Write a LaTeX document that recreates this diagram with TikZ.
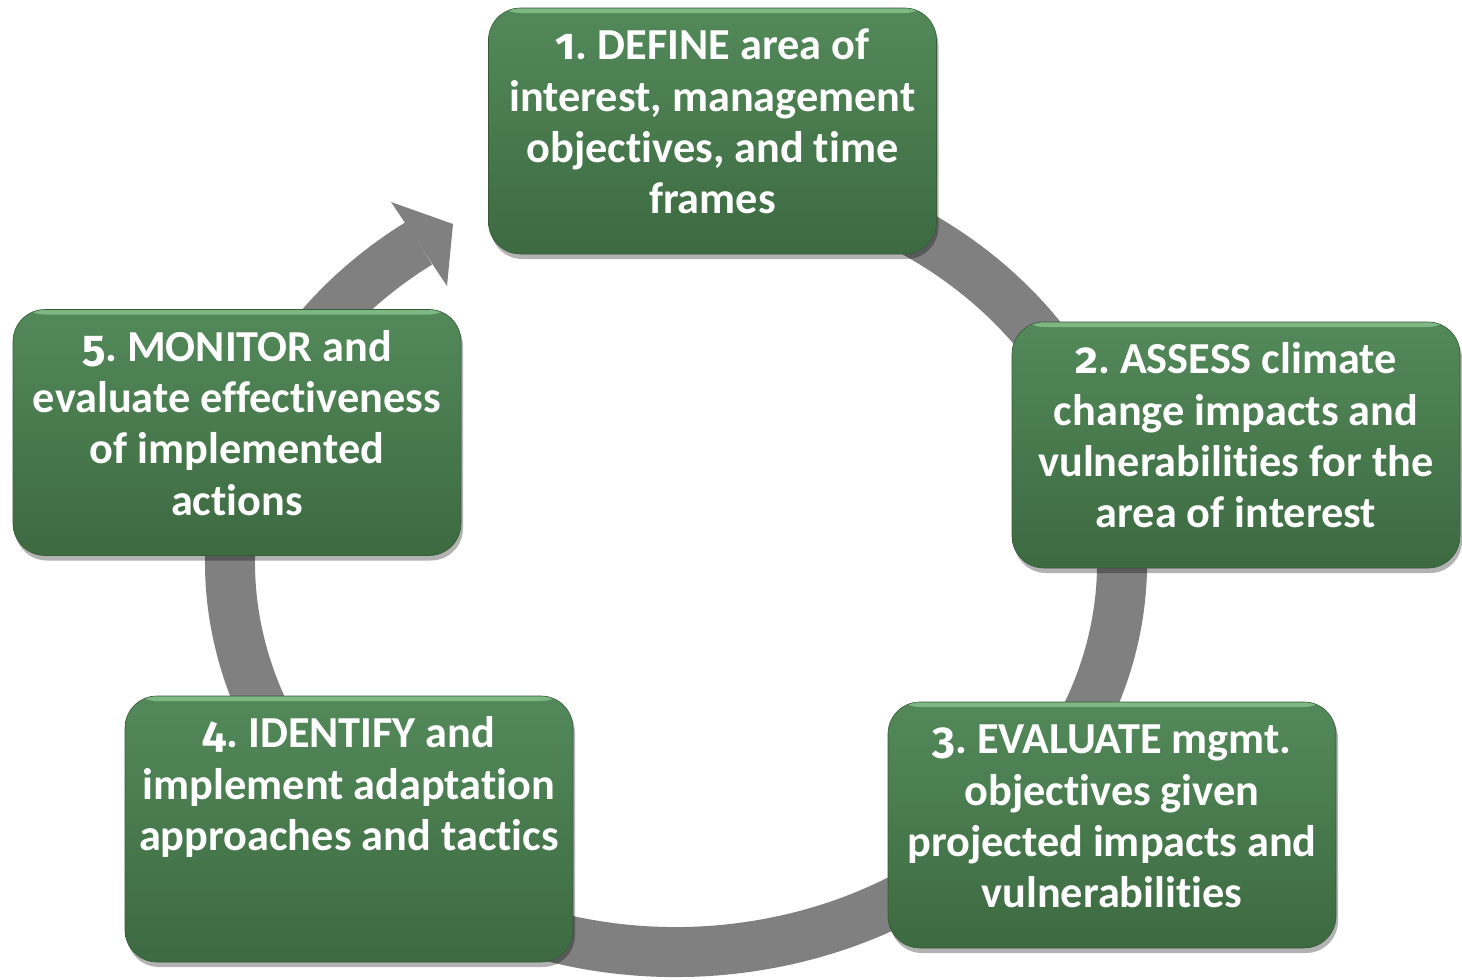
\documentclass[tikz,border=0pt]{standalone}
\usepackage{fontspec}
\setmainfont{Carlito}[Ligatures=NoCommon]
\newfontfamily\numfont{Fira Sans}[Numbers=OldStyle]
\newcommand{\stepnum}[1]{{\numfont #1}}
\usetikzlibrary{shadows}
\definecolor{ringgray}{HTML}{808080}
\definecolor{gtop}{HTML}{53895A}
\definecolor{gbot}{HTML}{3D6A41}
\definecolor{ghl}{HTML}{8CC78F}
\begin{document}
\frenchspacing
\begin{tikzpicture}[x=1pt,y=-1pt,
  stepbox/.style={rounded corners=32pt, minimum width=448pt, minimum height=246pt,
    inner sep=0pt, top color=gtop, bottom color=gbot, draw=gbot!85!black, line width=0.6pt,
    drop shadow={shadow xshift=2pt, shadow yshift=-5pt, opacity=0.3, fill=black},
    path picture={\fill[ghl,opacity=0.75] ([yshift=2pt]path picture bounding box.north west)
      rectangle ([yshift=-5pt]path picture bounding box.north east);}},
  steptext/.style={anchor=north, text=white, align=center,
    font=\bfseries\fontsize{44.3}{51.3}\selectfont, inner sep=0pt}]
\useasboundingbox (0,0) rectangle (1462,980);
% ring with arrow
\coordinate (c) at (676,562);
\draw[ringgray, line width=50pt] ([shift={(-100:446 and 390)}]c)
  arc[start angle=-100, end angle=234.8, x radius=446, y radius=390];
\coordinate (hOut) at (391,202);
\coordinate (hTip) at (453,224);
\coordinate (hIn) at (447,286);
\fill[ringgray] (hOut) -- (hTip) -- (hIn) -- cycle;
% boxes
\node[stepbox] (b1) at (712.5,131) {};
\node[stepbox] (b2) at (1236,445) {};
\node[stepbox] (b3) at (1112,825) {};
\node[stepbox, minimum height=266pt] (b4) at (349,829) {};
\node[stepbox] (b5) at (237,432.5) {};
% texts
\node[steptext] (t1) at ([yshift=-16pt]b1.north) {\strut\stepnum{1}. DEFINE area of\\interest, management\\objectives, and time\\frames};
\node[steptext] (t2) at ([yshift=-16pt]b2.north) {\strut\stepnum{2}. ASSESS climate\\change impacts and\\vulnerabilities for the\\area of interest};
\node[steptext] (t3) at ([yshift=-16pt]b3.north) {\strut\stepnum{3}. EVALUATE mgmt.\\objectives given\\projected impacts and\\vulnerabilities};
\node[steptext] (t4) at ([yshift=-16pt]b4.north) {\strut\stepnum{4}. IDENTIFY and\\implement adaptation\\approaches and tactics};
\node[steptext] (t5) at ([yshift=-16pt]b5.north) {\strut\stepnum{5}. MONITOR and\\evaluate effectiveness\\of implemented\\actions};
\end{tikzpicture}
\end{document}
